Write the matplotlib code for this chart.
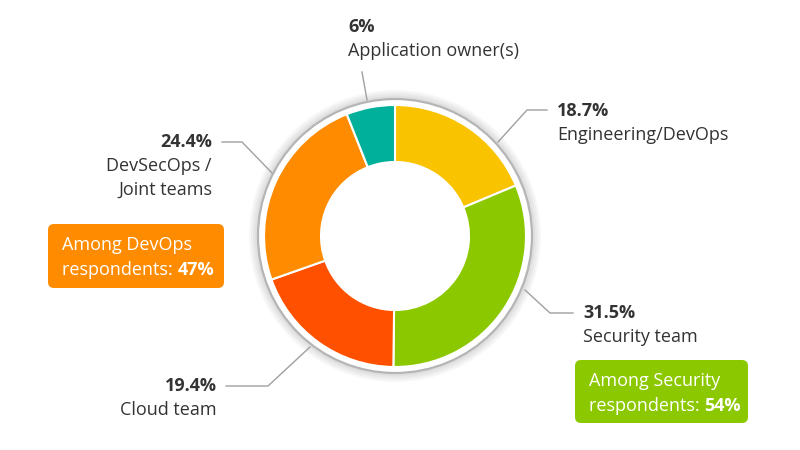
import matplotlib.pyplot as plt
from matplotlib.patches import Circle, FancyBboxPatch

# data
labels = ['Engineering/DevOps', 'Security team', 'Cloud team',
          'DevSecOps /\nJoint teams', 'Application owner(s)']
values = [18.7, 31.5, 19.4, 24.4, 6.0]
pct_text = ['18.7%', '31.5%', '19.4%', '24.4%', '6%']
colors = ['#FAC300', '#8CC800', '#FF5000', '#FF8C00', '#00B09B']

box_texts = ['Among DevOps\nrespondents: ', 'Among Security\nrespondents: ']
box_values = ['47%', '54%']

H = 450
def Y(y):
    return H - y

plt.rcParams['font.family'] = ['Open Sans', 'DejaVu Sans']
fig = plt.figure(figsize=(8, 4.5), dpi=100)
ax = fig.add_axes([0, 0, 1, 1])

cx, cy = 395, Y(236)

# soft shadow + grey ring
for i in range(4):
    ax.add_patch(Circle((cx, cy), 140 + i * 2, color='#000000', alpha=0.03, lw=0, zorder=0))
ax.add_patch(Circle((cx, cy), 137, facecolor='white', edgecolor='#b5b5b5', lw=1.6, zorder=1))

wedges, _ = ax.pie(values, colors=colors, startangle=90, counterclock=False,
                   center=(cx, cy), radius=131, frame=True,
                   wedgeprops=dict(width=57, edgecolor='white', linewidth=1.5))
for w in wedges:
    w.set_zorder(2)
ax.set_xlim(0, 800)
ax.set_ylim(0, 450)
ax.set_aspect('equal')
ax.axis('off')

line_kw = dict(color='#a0a0a0', lw=1, zorder=1)
txt = '#333333'
fs = 13

def label(x, y, pct, lines, ha='left'):
    ax.text(x, Y(y), pct, fontsize=fs, fontweight='bold', color=txt, va='center', ha=ha)
    for k, s in enumerate(lines.split('\n')):
        ax.text(x, Y(y + 24 * (k + 1)), s, fontsize=fs, color=txt, va='center', ha=ha)

# Engineering/DevOps
ax.plot([498, 527, 547], [Y(142), Y(110), Y(110)], **line_kw)
label(557, 111, pct_text[0], labels[0])

# Security team
ax.plot([525, 550, 573], [Y(290), Y(313), Y(313)], **line_kw)
label(583, 313, pct_text[1], labels[1])

# Cloud team
ax.plot([310, 268, 226], [Y(347), Y(386), Y(386)], **line_kw)
label(217, 386, pct_text[2], labels[2], ha='right')

# DevSecOps / Joint teams
ax.plot([272, 242, 222], [Y(173), Y(142), Y(142)], **line_kw)
label(212, 142, pct_text[3], labels[3], ha='right')

# Application owner(s)
ax.plot([367, 362], [Y(100), Y(72)], **line_kw)
label(348, 27, pct_text[4], labels[4])

# callout boxes
boxes = [(48, 224, 176, 64, colors[3]), (575, 360, 173, 63, colors[1])]
for (bx, by, bw, bh, c), t, v in zip(boxes, box_texts, box_values):
    ax.add_patch(FancyBboxPatch((bx + 6, Y(by + bh) + 6), bw - 12, bh - 12,
                                boxstyle='round,pad=6', facecolor=c, edgecolor='none', zorder=3))
    first, second = t.split('\n')
    ax.text(bx + 14, Y(by + 21), first, fontsize=fs, color='white', va='center', zorder=4)
    t2 = ax.text(bx + 14, Y(by + 46), second, fontsize=fs, color='white', va='center', zorder=4)
    fig.canvas.draw()
    bb = t2.get_window_extent()
    x_end = ax.transData.inverted().transform((bb.x1, bb.y0))[0]
    ax.text(x_end, Y(by + 46), v, fontsize=fs, color='white', fontweight='bold',
            va='center', zorder=4)

fig.savefig('out.png', dpi=100)
